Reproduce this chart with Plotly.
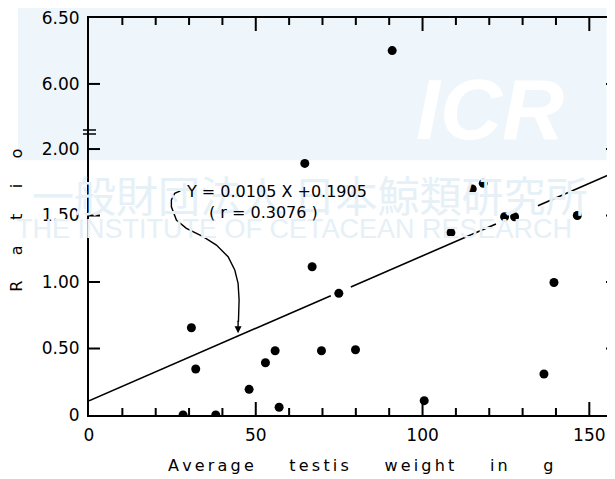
import plotly.graph_objects as go

# ---------------- data ----------------
# lower panel (ratio 0 - 2.1)
testis_weight = [28.2, 30.7, 32.0, 38.0, 48.0, 52.9, 55.8, 57.0, 64.7, 66.9, 69.7,
                 74.9, 79.9, 100.5, 108.5, 114.9, 118.2, 124.6, 127.6, 136.4, 139.4, 146.4]
ratio = [0.0, 0.656, 0.346, 0.0, 0.193, 0.393, 0.483, 0.058, 1.892, 1.115, 0.483,
         0.915, 0.491, 0.108, 1.371, 1.70, 1.742, 1.491, 1.491, 0.308, 0.996, 1.50]
# upper panel (ratio above the axis break)
testis_weight_high = [90.9]
ratio_high = [6.253]

# drawn regression line (as drawn in the figure) and its gaps
line_slope = 0.0109
line_intercept = 0.107
line_segments = [(0.0, 72.5), (78.5, 122.0), (134.6, 157.7)]

x_ticks = [0, 50, 100, 150]
x_ticktext = ["0", "50", "100", "150"]
x_minor_ticks = [10, 20, 30, 40, 60, 70, 80, 90, 110, 120, 130, 140]
y_low_ticks = [0, 0.5, 1.0, 1.5, 2.0]
y_low_ticktext = ["0", "0.50", "1.00", "1.50", "2.00"]
y_high_ticks = [6.0, 6.5]
y_high_ticktext = ["6.00", "6.50"]

equation_text = "Y = 0.0105 X +0.1905"
r_text = "( r = 0.3076 )"
x_title = "Average testis weight in g"
y_title = "Ratio"

X_RANGE = [0, 157.7]
Y_LOW_RANGE = [0, 2.128]
Y_HIGH_RANGE = [5.635, 6.5005]
SPLIT = 0.7128
PLOT_W, PLOT_H = 526, 397   # plot-area size in px, used for tick lengths

# ---------------- figure ----------------
fig = go.Figure()

fig.add_trace(go.Scatter(x=testis_weight, y=ratio, mode="markers",
                         marker=dict(color="black", size=9),
                         xaxis="x", yaxis="y", showlegend=False))
fig.add_trace(go.Scatter(x=testis_weight_high, y=ratio_high, mode="markers",
                         marker=dict(color="black", size=9),
                         xaxis="x2", yaxis="y2", showlegend=False))

lx, ly = [], []
for a, b in line_segments:
    lx += [a, b, None]
    ly += [line_intercept + line_slope * a, line_intercept + line_slope * b, None]
fig.add_trace(go.Scatter(x=lx, y=ly, mode="lines", line=dict(color="black", width=1.6),
                         xaxis="x", yaxis="y", showlegend=False, hoverinfo="skip"))

tickfont = dict(family="DejaVu Sans", size=17, color="black")
common_x = dict(range=X_RANGE, domain=[0, 1], showgrid=False, zeroline=False,
                showline=True, linecolor="black", linewidth=2, ticks="",
                tickvals=x_ticks, ticktext=x_ticktext)
common_y = dict(showgrid=False, zeroline=False, ticks="", tickfont=tickfont,
                showline=True, linecolor="black", linewidth=2)

fig.update_layout(
    width=607, height=471,
    margin=dict(l=81, r=0, t=10, b=64),
    paper_bgcolor="white", plot_bgcolor="rgba(0,0,0,0)",
    xaxis=dict(**common_x, anchor="y", tickfont=tickfont, ticklabelstandoff=4),
    xaxis2=dict(**common_x, anchor="y2", side="top", showticklabels=False),
    yaxis=dict(**common_y, domain=[0, SPLIT], range=Y_LOW_RANGE, anchor="x",
               tickvals=y_low_ticks, ticktext=y_low_ticktext, ticklabelstandoff=4),
    yaxis2=dict(**common_y, domain=[SPLIT, 1], range=Y_HIGH_RANGE, anchor="x2",
                tickvals=y_high_ticks, ticktext=y_high_ticktext, ticklabelstandoff=4),
)

# ---- inward tick marks (paper-referenced, positioned from the axis scales) ----
def x_paper(v):
    return (v - X_RANGE[0]) / (X_RANGE[1] - X_RANGE[0])

def y_low_paper(v):
    return SPLIT * (v - Y_LOW_RANGE[0]) / (Y_LOW_RANGE[1] - Y_LOW_RANGE[0])

def y_high_paper(v):
    return SPLIT + (1 - SPLIT) * (v - Y_HIGH_RANGE[0]) / (Y_HIGH_RANGE[1] - Y_HIGH_RANGE[0])

tick_line = dict(color="black", width=2)
for xv, ln in [(v, 13) for v in x_ticks[1:]] + [(v, 7) for v in x_minor_ticks]:
    px = x_paper(xv)
    fig.add_shape(type="line", xref="paper", yref="paper", x0=px, x1=px,
                  y0=0, y1=ln / PLOT_H, line=tick_line)
    fig.add_shape(type="line", xref="paper", yref="paper", x0=px, x1=px,
                  y0=1, y1=1 - ln / PLOT_H, line=tick_line)
y_tick_pos = [y_low_paper(v) for v in y_low_ticks[1:]] + [y_high_paper(y_high_ticks[0])]
for py in y_tick_pos:
    fig.add_shape(type="line", xref="paper", yref="paper", x0=0, x1=11 / PLOT_W,
                  y0=py, y1=py, line=tick_line)
    fig.add_shape(type="line", xref="paper", yref="paper", x0=1, x1=1 - 9 / PLOT_W,
                  y0=py, y1=py, line=tick_line)

# watermark background tint
fig.add_shape(type="rect", xref="paper", yref="paper", x0=-0.135, x1=0.984, y0=0.642, y1=1.06,
              fillcolor="#eef6fb", line=dict(width=0), layer="below")

# axis break marks on the left axis
for yb in (0.7179, 0.7078):
    fig.add_shape(type="line", xref="paper", yref="paper", x0=-0.0114, x1=0.0133, y0=yb, y1=yb,
                  line=dict(color="black", width=1.5))

# curved pointer from equation to the regression line
curve = [(27.4, 1.686), (25.7, 1.667), (24.7, 1.617), (24.7, 1.566), (26.2, 1.466),
         (29.2, 1.404), (34.2, 1.341), (38.2, 1.278), (41.7, 1.190), (43.7, 1.090),
         (44.7, 0.990), (45.0, 0.865), (44.8, 0.70)]
path = "M " + " L ".join(f"{cx},{cy}" for cx, cy in curve)
fig.add_shape(type="path", xref="x", yref="y", path=path, line=dict(color="black", width=1.4))
fig.add_annotation(x=44.7, y=0.614, xref="x", yref="y", text="", showarrow=True,
                   ax=0, ay=-14, arrowhead=2, arrowsize=1, arrowwidth=1.4, arrowcolor="black")

# watermark texts
fig.add_annotation(x=0.763, y=0.77, xref="paper", yref="paper", text="<b><i>ICR</i></b>",
                   xanchor="center", yanchor="middle", showarrow=False,
                   font=dict(family="Liberation Sans", size=86, color="white"))
fig.add_annotation(x=0.42, y=0.559, xref="paper", yref="paper", text="一般財団法人 日本鯨類研究所",
                   showarrow=False, font=dict(family="Noto Sans CJK JP", size=42, color="#e6f0f7"))
fig.add_annotation(x=0.39, y=0.468, xref="paper", yref="paper",
                   text="THE INSTITUTE OF CETACEAN RESEARCH",
                   showarrow=False, font=dict(family="Liberation Sans", size=27, color="#e6f0f7"))

# equation labels
fig.add_annotation(x=28.4, y=1.677, xref="x", yref="y", text=equation_text, showarrow=False,
                   xanchor="left", font=dict(family="DejaVu Sans", size=16, color="black"))
fig.add_annotation(x=35.3, y=1.526, xref="x", yref="y", text=r_text, showarrow=False,
                   xanchor="left", font=dict(family="DejaVu Sans", size=16, color="black"))

# axis titles (letter-spaced as in the original)
def spaced(words, letter_gap, word_gap):
    return word_gap.join(letter_gap.join(w) for w in words.split(" "))

fig.add_annotation(x=0.517, y=-0.155, xref="paper", yref="paper",
                   text=spaced(x_title, "\u200a\u200a", "\u00a0" * 7), showarrow=False,
                   font=dict(family="DejaVu Sans", size=16, color="black"))
fig.add_annotation(x=-0.16, y=0.49, xref="paper", yref="paper",
                   text=spaced(y_title, "\u00a0" * 5, ""), showarrow=False, textangle=-90,
                   font=dict(family="DejaVu Sans", size=16, color="black"))

fig.write_html("out.html")
